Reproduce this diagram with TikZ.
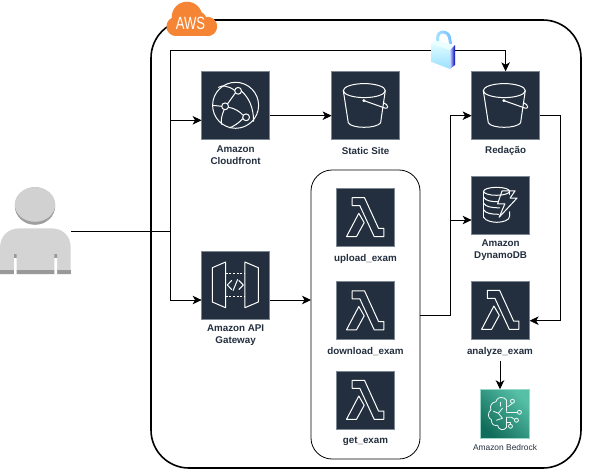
\documentclass[tikz,border=0pt]{standalone}
\usepackage{fontspec}
\usepackage{graphicx}
\setmainfont{Liberation Sans}
\usetikzlibrary{arrows.meta,calc}
\definecolor{awsnavy}{HTML}{232F3E}
\definecolor{awsedge}{HTML}{7D8792}
\definecolor{awsorange}{HTML}{F58534}
\definecolor{bedrockdark}{HTML}{116D5B}
\definecolor{bedrocklight}{HTML}{56C0A7}
\tikzset{
  iconbox/.style={draw=awsedge,line width=0.7pt,fill=awsnavy,inner sep=0pt,minimum size=#1,outer sep=0pt},
  glyph/.style={draw=white,line width=1pt,line join=round,line cap=round},
  caption/.style={font=\fontsize{9.8}{12}\selectfont\bfseries,text=awsnavy,align=center,inner sep=0pt},
  conn/.style={draw=black,line width=0.8pt},
  arrowconn/.style={conn,-{Stealth[length=9pt,width=8.5pt,inset=2.5pt]}},
  hidden/.style={inner sep=0pt,outer sep=0pt,minimum width=#1}
}
\newcommand{\LambdaGlyph}[1]{\begin{scope}[shift={(#1.north west)}]
  \draw[glyph] (15.7,9.3) -- (28,9.3) -- (42,40) -- (47.3,40) -- (47.3,48.3) -- (37.7,48.3) -- (23.3,17.3) -- (15.7,17.3) -- cycle;
  \draw[glyph] (22.3,25) -- (10,48.3) -- (20,48.3) -- (27.7,34.3) -- cycle;
\end{scope}}
\newcommand{\BucketGlyph}[1]{\begin{scope}[shift={(#1.north west)}]
  \draw[glyph] (32.7,19.3) ellipse [x radius=21,y radius=7];
  \draw[glyph] (11.7,19.3) -- (16.7,51.5) .. controls (20,57.5) and (45,57.5) .. (49,51.5) -- (53.7,19.3);
  \draw[glyph] (32.3,29.3) -- (52,36.3) .. controls (58,39) and (57,33) .. (52,31.5);
  \fill[white] (32.3,29.3) circle (1.6);
\end{scope}}
\newcommand{\CloudfrontGlyph}[1]{\begin{scope}[shift={(#1.north west)}]
  \draw[glyph] (34,34) circle (23);
  \draw[glyph] (23.5,35) circle (3.4);
  \draw[glyph] (36.5,19.5) circle (3.4);
  \draw[glyph] (44.5,46) circle (3.4);
  \draw[glyph] (26,32.5) -- (33.5,22);
  \draw[glyph] (40,20) .. controls (47,26) and (52,36) .. (52,50);
  \draw[glyph] (33,19) .. controls (26,14) and (20,14) .. (17,16);
  \draw[glyph] (27,36) .. controls (33,37) and (38,40) .. (41.5,44);
  \draw[glyph] (20,35) -- (11,34);
  \draw[glyph] (22.5,38.5) .. controls (20,44) and (19,50) .. (20,53);
  \draw[glyph] (41,47.5) .. controls (37,52) and (32,55) .. (28,56.5);
\end{scope}}
\newcommand{\GatewayGlyph}[1]{\begin{scope}[shift={(#1.north west)}]
  \draw[glyph] (10.7,16.7) -- (24,11) -- (24,56.7) -- (10.7,51) -- cycle;
  \draw[glyph] (43.3,11) -- (56.7,16.7) -- (56.7,51) -- (43.3,56.7) -- cycle;
  \draw[glyph,dash pattern=on 2pt off 1.7pt,line cap=butt] (24,22.3) -- (43.3,22.3);
  \draw[glyph,dash pattern=on 2pt off 1.7pt,line cap=butt] (24,45.7) -- (43.3,45.7);
  \draw[glyph] (30,29.5) -- (25.7,34) -- (30,38.5);
  \draw[glyph] (37.3,29.5) -- (41.7,34) -- (37.3,38.5);
  \draw[glyph] (36,28.5) -- (31.5,39.5);
\end{scope}}
\newcommand{\DynamoGlyph}[1]{\begin{scope}[shift={(#1.north west)}]
  \draw[glyph] (25,15) ellipse [x radius=13,y radius=4];
  \draw[glyph] (12,15) -- (12,41);
  \draw[glyph] (38,15) -- (38,18);
  \draw[glyph] (12,21) .. controls (14,24.5) and (20,25.5) .. (27,25.5);
  \draw[glyph] (12,27) .. controls (14,30.5) and (20,31.5) .. (28,31.5);
  \draw[glyph] (12,33.5) .. controls (14,37) and (20,38) .. (27,38);
  \draw[glyph] (12,41) .. controls (14,45) and (22,46) .. (25,46) .. controls (31,46) and (38,44) .. (38,40) -- (38,35.5);
  \draw[glyph] (30.5,14.5) -- (43.5,14.5) -- (38.5,21.7) -- (45.5,21.7) -- (27.5,41) -- (33.3,27.5) -- (26,27.5) -- cycle;
\end{scope}}
\newcommand{\BedrockGlyph}[1]{\begin{scope}[shift={(#1.north west)},every path/.append style={draw=white!90!bedrocklight,line width=0.8pt,line cap=round,line join=round}]
  \draw (24,9) .. controls (20,7) and (16,9) .. (15.5,12.5) .. controls (11,13) and (9,17) .. (10.5,20.5) .. controls (7,23) and (7,29) .. (11,30.5) .. controls (10.5,35) and (14,37) .. (17,36) .. controls (18,41) and (24,42) .. (26,38) -- (26,28);
  \draw (24,9) -- (26,11) -- (26,22);
  \draw (13,22) -- (18,24) -- (22,19);
  \draw (18,24) -- (22,29) -- (16,31);
  \draw (20,13) -- (20,17);
  \draw (26,17) -- (28,17) -- (32,14);
  \draw (26,23) -- (37,23);
  \draw (26,28) -- (31,28) -- (34,30);
  \draw (26,33) -- (30,33) -- (30,35);
  \draw (32,12) circle (2);
  \draw (39,23) circle (2);
  \draw (36,31) circle (2);
  \draw (30,37) circle (2);
\end{scope}}
\begin{document}
\begin{tikzpicture}[x=1pt,y=-1pt]
\useasboundingbox (0,0) rectangle (598,472);
% AWS container
\node[draw=black,line width=1.6pt,rounded corners=38pt,minimum width=430pt,minimum height=448pt,inner sep=0pt,outer sep=0pt] (aws) at (366,244) {};
% lambda group
\node[draw=black,line width=0.8pt,rounded corners=21pt,minimum width=109pt,minimum height=289pt,inner sep=0pt,outer sep=0pt] (group) at (365.5,314.5) {};
% AWS cloud
\node[hidden=1pt] (cloud) at (191.5,19) {};
\fill[awsorange] (187,17) circle (15.3) (176,26.5) circle (9.6) (207.5,26.5) circle (9.7) (198,20) circle (8.5);
\fill[awsorange] (176,25) rectangle (207.5,36.2);
\node[text=white,inner sep=0pt] at (190.5,23.5) {\scalebox{0.74}[1]{\fontsize{17.7}{18}\selectfont AWS}};
% Icons
\node[iconbox=68pt] (cf) at (235.6,105.3) {};
\node[iconbox=68pt] (site) at (365.6,105.3) {};
\node[iconbox=68pt] (red) at (505.6,105.3) {};
\node[iconbox=68pt] (api) at (235.6,285) {};
\node[iconbox=58pt] (dyn) at (500.6,205.3) {};
\node[iconbox=58pt] (ana) at (500.6,310) {};
\node[iconbox=58pt] (up) at (365.5,217.3) {};
\node[iconbox=58pt] (dl) at (365.5,310.5) {};
\node[iconbox=58pt] (get) at (365.5,400) {};
\node[draw=none,inner sep=0pt,minimum size=48.5pt,outer sep=0pt] (bed) at (504.7,413.5) {};
\shade[bottom color=bedrockdark,top color=bedrocklight,shading angle=-45,draw=bedrocklight!60!white,line width=0.5pt] (bed.north west) rectangle (bed.south east);
\CloudfrontGlyph{cf}
\BucketGlyph{site}
\BucketGlyph{red}
\GatewayGlyph{api}
\DynamoGlyph{dyn}
\LambdaGlyph{ana}
\LambdaGlyph{up}
\LambdaGlyph{dl}
\LambdaGlyph{get}
\BedrockGlyph{bed}
% Captions
\node[caption] (cfl) at (235.6,155) {Amazon\\Cloudfront};
\node[caption] (sitel) at (365.6,151) {Static Site};
\node[caption] (redl) at (505.6,151) {Redação};
\node[caption] (apil) at (235.6,335.5) {Amazon API\\Gateway};
\node[caption] (dynl) at (500.6,250.5) {Amazon\\DynamoDB};
\node[caption] (anal) at (500,352) {analyze\_exam};
\node[caption] (upl) at (365.5,258.7) {upload\_exam};
\node[caption] (dll) at (365.5,351.7) {download\_exam};
\node[caption] (getl) at (365.5,441.7) {get\_exam};
\node[font=\fontsize{8.4}{10}\selectfont,text=awsnavy,inner sep=0pt] (bedl) at (505,447) {Amazon Bedrock};
% User
\node[hidden=71pt,minimum height=87pt] (user) at (35.5,231) {};
\fill[black!38] (35,206) ellipse [x radius=20.2,y radius=18.8];
\fill[black!18] (35,204.5) ellipse [x radius=20.2,y radius=17.3];
\fill[black!17] (0,274.3) -- (0,248) .. controls (0,236) and (8,228.3) .. (20,228.3) -- (51,228.3) .. controls (63,228.3) and (70.7,236) .. (70.7,248) -- (70.7,274.3) -- cycle;
\fill[black!40] (0,270) rectangle (70.7,274.3);
\fill[black!40] (14,254) rectangle (16.7,258) (54.3,254) rectangle (57,258);
\fill[white] (14,258) rectangle (16.7,274.5) (54.3,258) rectangle (57,274.5);
% Helper coordinates
\coordinate (hub) at (170.7,231);
\coordinate (trunktop) at (170.7,50);
\coordinate (yCf) at (0,120.3);
\coordinate (ySite) at (0,115.7);
\coordinate (yApi) at (0,300);
\coordinate (busx) at (450,0);
\coordinate (yGroup) at (0,315.3);
\coordinate (yDyn) at (0,220);
\coordinate (rightx) at (560.7,0);
\coordinate (yAna) at (0,320.7);
\coordinate (xAna) at (500,0);
\node[hidden=24pt,minimum height=38pt] (lock) at (443,50) {};
% Connectors
\draw[conn] (user.east) -- (hub);
\draw[conn] (trunktop) -- (lock.west);
\draw[arrowconn] (lock.east) -| (red.north);
\draw[arrowconn] (trunktop) |- (cf.west|-yCf);
\draw[arrowconn] (trunktop) |- (api.west|-yApi);
\draw[arrowconn] (cf.east|-ySite) -- (site.west|-ySite);
\draw[arrowconn] (api.east|-yApi) -- (group.west|-yApi);
\draw[arrowconn] (group.east|-yGroup) -- (busx|-yGroup) |- (red.west|-ySite);
\draw[arrowconn] (busx|-yDyn) -- (dyn.west|-yDyn);
\draw[arrowconn] (red.east|-ySite) -- (rightx|-ySite) |- (ana.east|-yAna);
\draw[arrowconn] (xAna|-anal.south) ++(0,4) -- (xAna|-bed.north);
% Lock
\shade[left color=blue!35!cyan!35!white,right color=blue!45!cyan!55!white,draw=none] (436.2,43) -- (436.2,37) .. controls (436.2,29) and (449,28) .. (451,37) -- (452.2,45) -- (449.4,45) -- (448,37.5) .. controls (447,32) and (439,32) .. (439,37.5) -- (439,43) -- cycle;
\shade[top color=blue!8!cyan!12!white,bottom color=blue!30!cyan!40!white] (431,43.3) -- (450,50) -- (450,69) -- (431,61.7) -- cycle;
\fill[blue!6!cyan!8!white] (431,43.3) -- (436.7,40.7) -- (455,45) -- (450,50) -- cycle;
\shade[left color=cyan!30!blue!25!white,right color=blue!70!black] (450,50) -- (455,45) -- (455,65) -- (450,69) -- cycle;
\end{tikzpicture}
\end{document}
